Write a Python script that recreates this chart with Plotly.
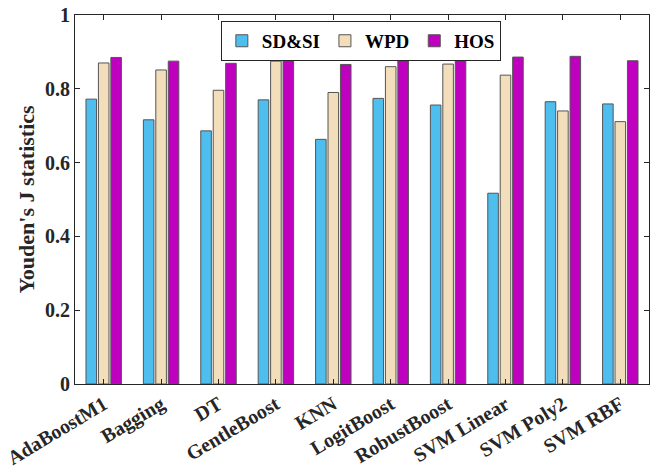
import plotly.graph_objects as go

categories = ["AdaBoostM1", "Bagging", "DT", "GentleBoost", "KNN", "LogitBoost",
              "RobustBoost", "SVM Linear", "SVM Poly2", "SVM RBF"]
sdsi = [0.772, 0.716, 0.686, 0.770, 0.663, 0.774, 0.756, 0.517, 0.765, 0.759]
wpd = [0.870, 0.851, 0.796, 0.875, 0.790, 0.860, 0.867, 0.837, 0.740, 0.711]
hos = [0.885, 0.875, 0.869, 0.886, 0.866, 0.888, 0.887, 0.886, 0.888, 0.876]
y_ticks = [0, 0.2, 0.4, 0.6, 0.8, 1]
y_ticktext = ["0", "0.2", "0.4", "0.6", "0.8", "1"]

series = [("SD&SI", sdsi, "#4DBEEE"), ("WPD", wpd, "#F3DEBB"), ("HOS", hos, "#BF00BF")]

fig = go.Figure()
for name, vals, col in series:
    fig.add_trace(go.Bar(x=categories, y=vals, name=name,
                         marker=dict(color=col, line=dict(color="#555555", width=1))))

font_family = "Liberation Serif"
fig.update_layout(
    width=656, height=469,
    margin=dict(l=75, r=7, t=15, b=85),
    paper_bgcolor="white", plot_bgcolor="white",
    barmode="group", bargap=0.35, bargroupgap=0.15,
    font=dict(family=font_family, size=20, color="#262626"),
    showlegend=True,
    legend=dict(orientation="h", x=0.498, xanchor="center", y=0.984, yanchor="top",
                bgcolor="white", bordercolor="#262626", borderwidth=1,
                font=dict(family=font_family, size=19, color="black", weight="bold"),
                itemwidth=30, tracegroupgap=0),
    xaxis=dict(showline=True, linecolor="#262626", linewidth=1, mirror="ticks",
               ticks="inside", ticklen=5, tickcolor="#262626", automargin=False,
               tickangle=-31, tickfont=dict(family=font_family, size=20, weight="bold", color="#262626"),
               showgrid=False),
    yaxis=dict(range=[0, 1], tickvals=y_ticks, ticktext=y_ticktext,
               showline=True, linecolor="#262626", linewidth=1, mirror="ticks",
               ticks="inside", ticklen=5, tickcolor="#262626", automargin=False,
               tickfont=dict(family=font_family, size=20, weight="bold", color="#262626"),
               showgrid=False, zeroline=False,
               title=dict(text="Youden's J statistics", standoff=4,
                          font=dict(family=font_family, size=22, weight="bold", color="#262626"))),
)
fig.write_html("out.html", config={"displayModeBar": False},
               post_script="document.body.style.margin='0';")
